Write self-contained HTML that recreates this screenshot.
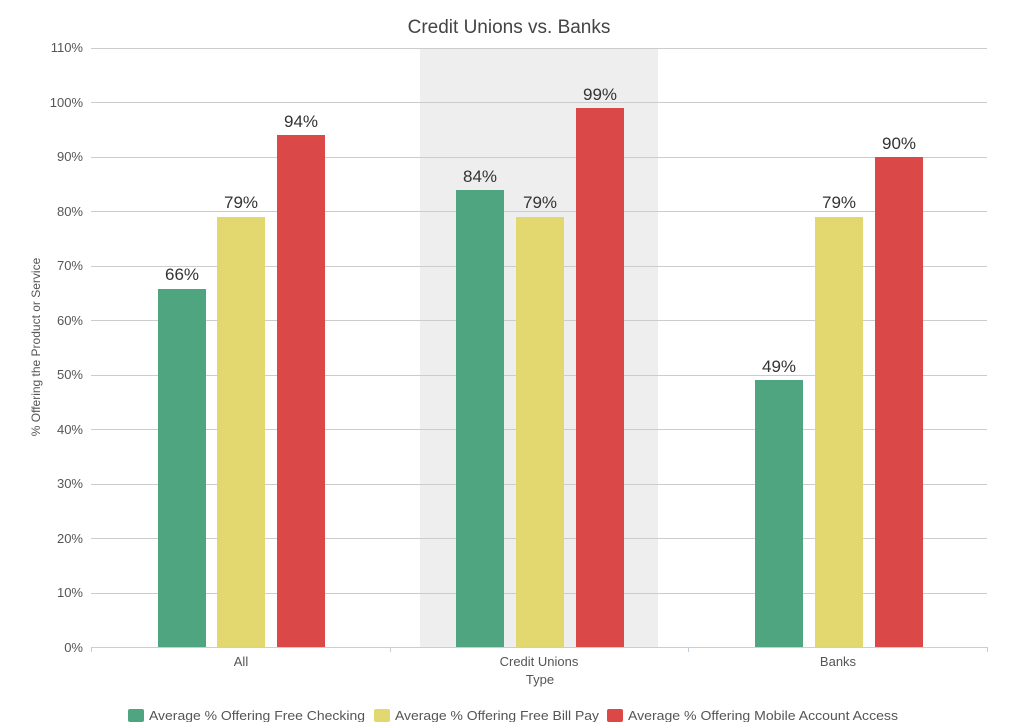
<!DOCTYPE html>
<html><head><meta charset="utf-8"><style>body{margin:0;background:#fff}</style></head>
<body>
<svg width="1021" height="722" xmlns="http://www.w3.org/2000/svg" font-family="Liberation Sans, sans-serif">
<rect x="420" y="48" width="238" height="599" fill="#eeeeee"/>
<g stroke="#cccccc" stroke-width="1">
<line x1="91" x2="987" y1="48.5" y2="48.5"/><line x1="91" x2="987" y1="102.5" y2="102.5"/>
<line x1="91" x2="987" y1="157.5" y2="157.5"/><line x1="91" x2="987" y1="211.5" y2="211.5"/>
<line x1="91" x2="987" y1="266.5" y2="266.5"/><line x1="91" x2="987" y1="320.5" y2="320.5"/>
<line x1="91" x2="987" y1="375.5" y2="375.5"/><line x1="91" x2="987" y1="429.5" y2="429.5"/>
<line x1="91" x2="987" y1="484.5" y2="484.5"/><line x1="91" x2="987" y1="538.5" y2="538.5"/>
<line x1="91" x2="987" y1="593.5" y2="593.5"/>
</g>
<g fill="#555" font-size="13" text-anchor="end">
<text x="83" y="52">110%</text><text x="83" y="107">100%</text><text x="83" y="161">90%</text>
<text x="83" y="216">80%</text><text x="83" y="270">70%</text><text x="83" y="325">60%</text>
<text x="83" y="379">50%</text><text x="83" y="434">40%</text><text x="83" y="488">30%</text>
<text x="83" y="543">20%</text><text x="83" y="597">10%</text><text x="83" y="652">0%</text>
</g>
<g>
<rect x="158" y="289" width="48" height="358" fill="#4fa580"/>
<rect x="217" y="217" width="48" height="430" fill="#e3d770"/>
<rect x="277" y="135" width="48" height="512" fill="#db4848"/>
<rect x="456" y="190" width="48" height="457" fill="#4fa580"/>
<rect x="516" y="217" width="48" height="430" fill="#e3d770"/>
<rect x="576" y="108" width="48" height="539" fill="#db4848"/>
<rect x="755" y="380" width="48" height="267" fill="#4fa580"/>
<rect x="815" y="217" width="48" height="430" fill="#e3d770"/>
<rect x="875" y="157" width="48" height="490" fill="#db4848"/>
</g>
<g fill="#333" font-size="17" text-anchor="middle">
<text x="182" y="280">66%</text><text x="241" y="208">79%</text><text x="301" y="127">94%</text>
<text x="480" y="182">84%</text><text x="540" y="208">79%</text><text x="600" y="100">99%</text>
<text x="779" y="372">49%</text><text x="839" y="208">79%</text><text x="899" y="149">90%</text>
</g>
<g stroke="#c0d0e0" stroke-width="1">
<line x1="91" x2="987" y1="647.5" y2="647.5"/>
<line x1="91.5" x2="91.5" y1="647" y2="652"/><line x1="390.5" x2="390.5" y1="647" y2="652"/>
<line x1="688.5" x2="688.5" y1="647" y2="652"/><line x1="987.5" x2="987.5" y1="647" y2="652"/>
</g>
<g fill="#555" font-size="13" text-anchor="middle">
<text x="241" y="666">All</text><text x="539" y="666">Credit Unions</text><text x="838" y="666">Banks</text>
<text x="540" y="684">Type</text>
</g>
<text x="509" y="33" fill="#444" font-size="19" text-anchor="middle">Credit Unions vs. Banks</text>
<text transform="translate(40,347) rotate(-90)" fill="#555" font-size="12" text-anchor="middle">% Offering the Product or Service</text>
<g font-size="13" fill="#555">
<rect x="128" y="709" width="16" height="13" rx="2" fill="#4fa580"/><text x="149" y="720" textLength="216" lengthAdjust="spacingAndGlyphs">Average % Offering Free Checking</text>
<rect x="374" y="709" width="16" height="13" rx="2" fill="#e3d770"/><text x="395" y="720" textLength="204" lengthAdjust="spacingAndGlyphs">Average % Offering Free Bill Pay</text>
<rect x="607" y="709" width="16" height="13" rx="2" fill="#db4848"/><text x="628" y="720" textLength="270" lengthAdjust="spacingAndGlyphs">Average % Offering Mobile Account Access</text>
</g>
</svg>
</body></html>
